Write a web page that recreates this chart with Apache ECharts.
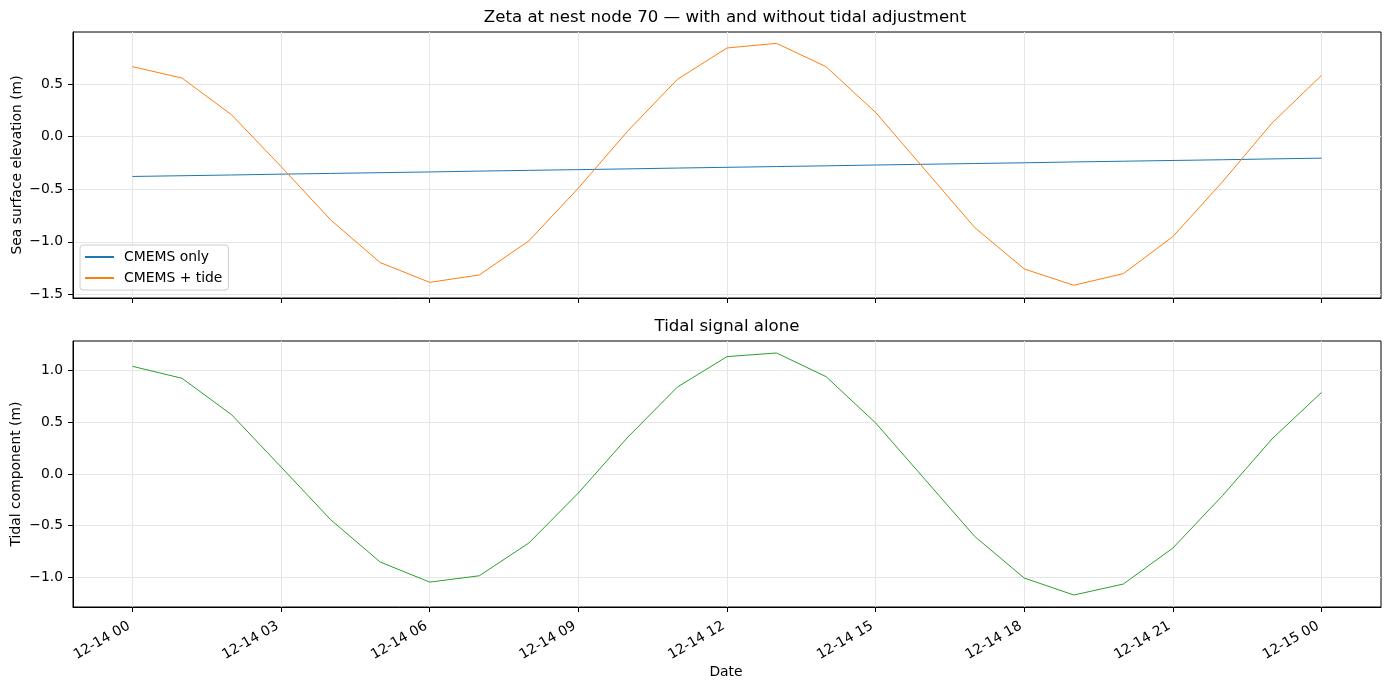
<!DOCTYPE html>
<html>
<head>
<meta charset="utf-8">
<script src="https://cdn.jsdelivr.net/npm/echarts@6/dist/echarts.min.js"></script>
<style>
  html, body { margin: 0; padding: 0; background: #fff; }
  #chart { width: 1389px; height: 690px; }
</style>
</head>
<body>
<div id="chart"></div>
<script>
// hours since 12-14 00
const hours = [0, 1, 2, 3, 4, 5, 6, 7, 8, 9, 10, 11, 12, 13, 14, 15, 16, 17, 18, 19, 20, 21, 22, 23, 24];
const cmemsOnly = [-0.379, -0.372, -0.365, -0.357, -0.350, -0.343, -0.336, -0.328, -0.321, -0.314, -0.307, -0.299,
  -0.292, -0.285, -0.278, -0.270, -0.263, -0.256, -0.249, -0.241, -0.234, -0.227, -0.220, -0.212, -0.205];
const cmemsTide = [0.665, 0.557, 0.208, -0.285, -0.792, -1.198, -1.386, -1.316, -0.992, -0.490, 0.055, 0.545,
  0.843, 0.887, 0.665, 0.230, -0.318, -0.865, -1.259, -1.414, -1.303, -0.951, -0.430, 0.129, 0.583];
const tidal = [1.042, 0.926, 0.574, 0.068, -0.442, -0.852, -1.046, -0.985, -0.668, -0.184, 0.358, 0.842,
  1.136, 1.171, 0.942, 0.494, -0.055, -0.604, -1.007, -1.171, -1.065, -0.716, -0.210, 0.339, 0.790];

const xTicks = [0, 3, 6, 9, 12, 15, 18, 21, 24];
const yTicksTop = [-1.5, -1.0, -0.5, 0.0, 0.5];
const yTicksBottom = [-1.0, -0.5, 0.0, 0.5, 1.0];

const FONT = "DejaVu Sans";
const GRID_COLOR = "#e6e6e6";

function pair(ys) {
  return hours.map((h, i) => [h, ys[i]]);
}
function dateLabel(h) {
  const day = 14 + Math.floor(h / 24);
  const hh = h % 24;
  return "12-" + day + " " + String(hh).padStart(2, "0");
}
function numLabel(v) {
  return (v < 0 ? "\u2212" : "") + Math.abs(v).toFixed(1);
}

function xAxisFor(gridIndex, showLabels) {
  return {
    type: "value",
    gridIndex: gridIndex,
    min: -1.2,
    max: 25.2,
    axisLine: { show: true, onZero: false, lineStyle: { color: "#000", width: 1 } },
    axisTick: { show: true, length: 5, customValues: xTicks, lineStyle: { color: "#000" } },
    axisLabel: {
      show: showLabels,
      customValues: xTicks,
      formatter: dateLabel,
      rotate: 30,
      margin: 16,
      padding: [0, 4, 0, 0],
      color: "#000",
      fontFamily: FONT,
      fontSize: 13.9
    },
    splitLine: { show: true, customValues: xTicks, lineStyle: { color: GRID_COLOR, width: 1 } }
  };
}
function yAxisFor(gridIndex, min, max, ticks) {
  return {
    type: "value",
    gridIndex: gridIndex,
    min: min,
    max: max,
    axisLine: { show: true, onZero: false, lineStyle: { color: "#000", width: 1 } },
    axisTick: { show: true, length: 5, customValues: ticks, lineStyle: { color: "#000" } },
    axisLabel: {
      customValues: ticks,
      formatter: numLabel,
      margin: 10,
      color: "#000",
      fontFamily: FONT,
      fontSize: 13.9
    },
    splitLine: { show: true, customValues: ticks, lineStyle: { color: GRID_COLOR, width: 1 } }
  };
}

const chart = echarts.init(document.getElementById("chart"));
chart.setOption({
  animation: false,
  backgroundColor: "#fff",
  grid: [
    { left: 73, top: 32, width: 1308, height: 266, show: true, borderColor: "#000", borderWidth: 1 },
    { left: 73, top: 341, width: 1308, height: 266, show: true, borderColor: "#000", borderWidth: 1 }
  ],
  xAxis: [xAxisFor(0, false), xAxisFor(1, true)],
  yAxis: [
    yAxisFor(0, -1.535, 0.995, yTicksTop),
    yAxisFor(1, -1.287, 1.287, yTicksBottom)
  ],
  legend: {
    data: ["CMEMS only", "CMEMS + tide"],
    orient: "vertical",
    left: 80,
    top: 245,
    padding: [5, 6, 5, 4],
    itemGap: 7,
    itemWidth: 29,
    itemHeight: 14,
    itemStyle: { opacity: 0 },
    borderColor: "#cccccc",
    borderWidth: 1,
    borderRadius: 3,
    backgroundColor: "rgba(255,255,255,0.8)",
    textStyle: { fontFamily: FONT, fontSize: 13.9, color: "#000", padding: [0, 0, 0, 5] }
  },
  series: [
    {
      name: "CMEMS only",
      type: "line",
      xAxisIndex: 0,
      yAxisIndex: 0,
      data: pair(cmemsOnly),
      symbol: "none",
      color: "#1f77b4",
      lineStyle: { width: 1, color: "#1f77b4" }
    },
    {
      name: "CMEMS + tide",
      type: "line",
      xAxisIndex: 0,
      yAxisIndex: 0,
      data: pair(cmemsTide),
      symbol: "none",
      color: "#ff7f0e",
      lineStyle: { width: 1, color: "#ff7f0e" }
    },
    {
      name: "Tidal",
      type: "line",
      xAxisIndex: 1,
      yAxisIndex: 1,
      data: pair(tidal),
      symbol: "none",
      color: "#2ca02c",
      lineStyle: { width: 1, color: "#2ca02c" }
    }
  ],
  graphic: [
    {
      type: "text", x: 725, y: 18,
      style: { text: "Zeta at nest node 70 \u2014 with and without tidal adjustment", fontFamily: FONT, fontSize: 16.6, fill: "#000", align: "center", verticalAlign: "middle" }
    },
    {
      type: "text", x: 727, y: 327,
      style: { text: "Tidal signal alone", fontFamily: FONT, fontSize: 16.6, fill: "#000", align: "center", verticalAlign: "middle" }
    },
    {
      type: "text", x: 17, y: 165, rotation: Math.PI / 2,
      style: { text: "Sea surface elevation (m)", fontFamily: FONT, fontSize: 13.9, fill: "#000", align: "center", verticalAlign: "middle" }
    },
    {
      type: "text", x: 16, y: 474, rotation: Math.PI / 2,
      style: { text: "Tidal component (m)", fontFamily: FONT, fontSize: 13.9, fill: "#000", align: "center", verticalAlign: "middle" }
    },
    {
      type: "text", x: 726, y: 672,
      style: { text: "Date", fontFamily: FONT, fontSize: 13.9, fill: "#000", align: "center", verticalAlign: "middle" }
    }
  ]
});
</script>
</body>
</html>
